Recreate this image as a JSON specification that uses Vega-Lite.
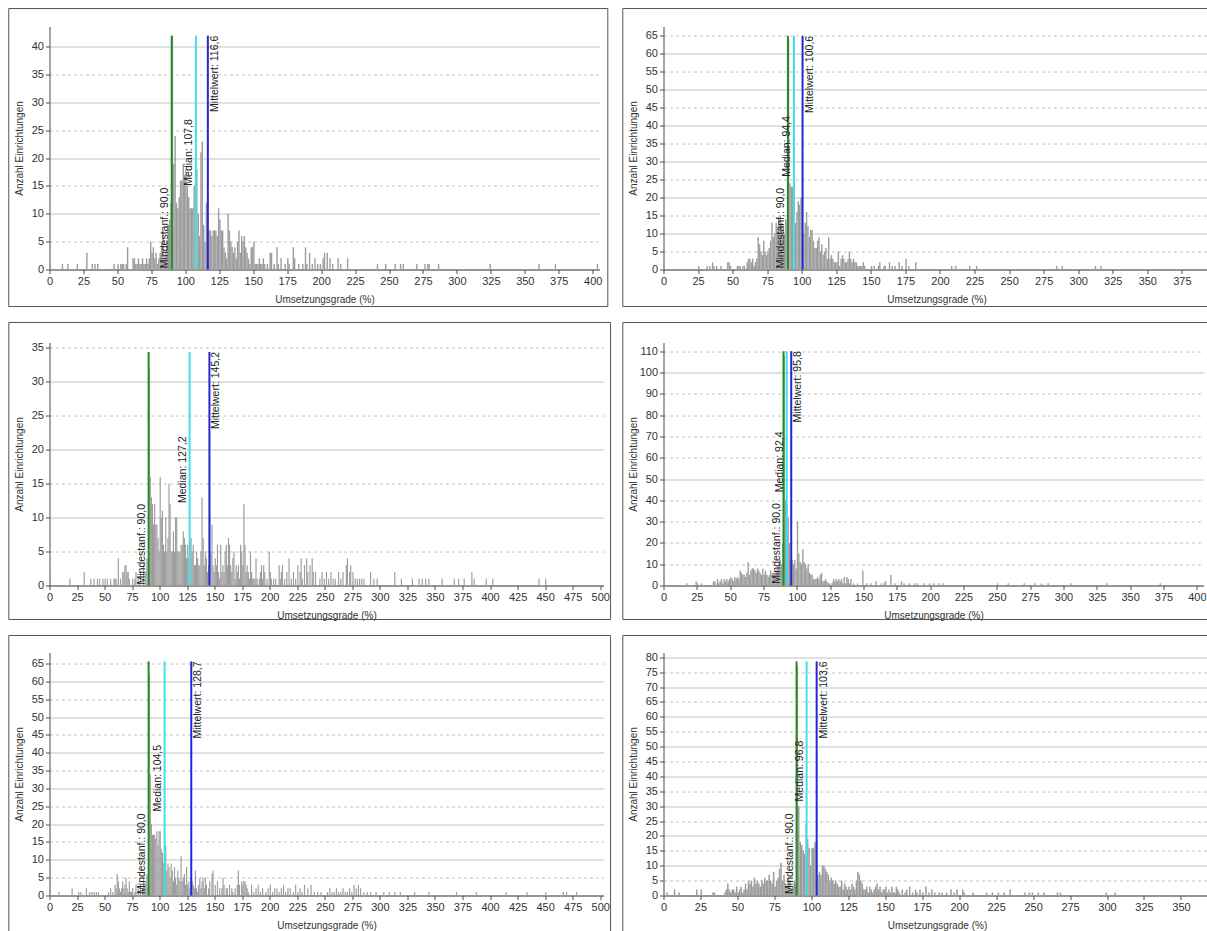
{
"$schema":"https://vega.github.io/schema/vega-lite/v6.json",
"background":"white",
"padding":{"left":7.5,"top":7.5,"right":0,"bottom":0},
"autosize":{"type":"pad"},
"config":{
 "font":"Liberation Sans",
 "view":{"stroke":null},
 "axis":{"labelFont":"Liberation Sans","labelFontSize":11,"labelColor":"#333333","titleFont":"Liberation Sans","titleFontSize":10,"titleFontWeight":"normal","titleColor":"#333333","domainColor":"#4d4d4d","tickColor":"#4d4d4d","tickSize":4,"labelPadding":2,"labelOverlap":false,"labelFlush":false},
 "axisX":{"grid":false,"titlePadding":8},
 "axisY":{"grid":true,"gridColor":"#c2c2c2","titleX":-25},
 "text":{"fontSize":10.5,"color":"#222222","font":"Liberation Sans"}
},
"datasets":{
"lines":[
{"p":1,"t":"min","x":90,"n":42,"label":"Mindestanf.: 90,0"},
{"p":1,"t":"med","x":107.8,"n":42,"label":"Median: 107,8"},
{"p":1,"t":"mean","x":116.6,"n":42,"label":"Mittelwert: 116,6"},
{"p":2,"t":"min","x":90,"n":65,"label":"Mindestanf.: 90,0"},
{"p":2,"t":"med","x":94.4,"n":65,"label":"Median: 94,4"},
{"p":2,"t":"mean","x":100.6,"n":65,"label":"Mittelwert: 100,6"},
{"p":3,"t":"min","x":90,"n":34.4,"label":"Mindestanf.: 90,0"},
{"p":3,"t":"med","x":127.2,"n":34.4,"label":"Median: 127,2"},
{"p":3,"t":"mean","x":145.2,"n":34.4,"label":"Mittelwert: 145,2"},
{"p":4,"t":"min","x":90,"n":110,"label":"Mindestanf.: 90,0"},
{"p":4,"t":"med","x":92.4,"n":110,"label":"Median: 92,4"},
{"p":4,"t":"mean","x":95.8,"n":110,"label":"Mittelwert: 95,8"},
{"p":5,"t":"min","x":90,"n":65.6,"label":"Mindestanf.: 90,0"},
{"p":5,"t":"med","x":104.5,"n":65.6,"label":"Median: 104,5"},
{"p":5,"t":"mean","x":128.7,"n":65.6,"label":"Mittelwert: 128,7"},
{"p":6,"t":"min","x":90,"n":78.6,"label":"Mindestanf.: 90,0"},
{"p":6,"t":"med","x":96.8,"n":78.6,"label":"Median: 96,8"},
{"p":6,"t":"mean","x":103.6,"n":78.6,"label":"Mittelwert: 103,6"}
],
"b1":[{"x":0,"n":1},{"x":9,"n":1},{"x":13,"n":1},{"x":20,"n":1},{"x":27,"n":3},{"x":31,"n":1},{"x":33,"n":1},{"x":35,"n":1},{"x":47,"n":1},{"x":50,"n":1},{"x":52,"n":1},{"x":53,"n":1},{"x":54,"n":1},{"x":56,"n":1},{"x":57,"n":4},{"x":61,"n":2},{"x":62,"n":2},{"x":63,"n":1},{"x":64,"n":1},{"x":65,"n":2},{"x":66,"n":1},{"x":67,"n":1},{"x":68,"n":2},{"x":69,"n":1},{"x":70,"n":1},{"x":71,"n":2},{"x":72,"n":1},{"x":73,"n":2},{"x":74,"n":5},{"x":75,"n":3},{"x":76,"n":4},{"x":77,"n":2},{"x":78,"n":3},{"x":79,"n":1},{"x":80,"n":2},{"x":81,"n":3},{"x":82,"n":5},{"x":83,"n":7},{"x":84,"n":2},{"x":85,"n":3},{"x":86,"n":5},{"x":87,"n":8},{"x":88,"n":9},{"x":89,"n":12},{"x":90,"n":42},{"x":91,"n":19},{"x":92,"n":24},{"x":93,"n":12},{"x":94,"n":11},{"x":95,"n":13},{"x":96,"n":16},{"x":97,"n":16},{"x":98,"n":19},{"x":99,"n":17},{"x":100,"n":18},{"x":101,"n":15},{"x":102,"n":13},{"x":103,"n":11},{"x":104,"n":11},{"x":105,"n":11},{"x":106,"n":15},{"x":107,"n":17},{"x":108,"n":18},{"x":109,"n":10},{"x":110,"n":6},{"x":111,"n":21},{"x":112,"n":23},{"x":113,"n":8},{"x":114,"n":5},{"x":115,"n":12},{"x":116,"n":7},{"x":117,"n":7},{"x":118,"n":7},{"x":119,"n":6},{"x":120,"n":7},{"x":121,"n":7},{"x":122,"n":7},{"x":123,"n":6},{"x":124,"n":11},{"x":125,"n":9},{"x":126,"n":7},{"x":127,"n":7},{"x":128,"n":4},{"x":129,"n":3},{"x":130,"n":2},{"x":131,"n":10},{"x":132,"n":7},{"x":133,"n":5},{"x":134,"n":4},{"x":135,"n":3},{"x":136,"n":4},{"x":137,"n":2},{"x":138,"n":5},{"x":139,"n":7},{"x":140,"n":3},{"x":141,"n":6},{"x":142,"n":5},{"x":143,"n":6},{"x":144,"n":4},{"x":145,"n":3},{"x":146,"n":2},{"x":147,"n":1},{"x":148,"n":4},{"x":149,"n":4},{"x":150,"n":5},{"x":151,"n":1},{"x":152,"n":1},{"x":153,"n":1},{"x":154,"n":2},{"x":155,"n":1},{"x":156,"n":1},{"x":157,"n":2},{"x":158,"n":1},{"x":160,"n":1},{"x":162,"n":3},{"x":163,"n":3},{"x":165,"n":1},{"x":167,"n":4},{"x":168,"n":1},{"x":170,"n":2},{"x":173,"n":1},{"x":175,"n":2},{"x":176,"n":1},{"x":179,"n":4},{"x":180,"n":2},{"x":183,"n":1},{"x":186,"n":1},{"x":188,"n":4},{"x":189,"n":1},{"x":191,"n":3},{"x":193,"n":1},{"x":195,"n":2},{"x":197,"n":1},{"x":199,"n":1},{"x":201,"n":2},{"x":202,"n":3},{"x":204,"n":3},{"x":206,"n":2},{"x":208,"n":1},{"x":212,"n":2},{"x":214,"n":1},{"x":219,"n":2},{"x":241,"n":1},{"x":247,"n":1},{"x":254,"n":1},{"x":258,"n":1},{"x":260,"n":1},{"x":270,"n":1},{"x":276,"n":1},{"x":278,"n":1},{"x":279,"n":1},{"x":286,"n":1},{"x":324,"n":1},{"x":360,"n":1},{"x":372,"n":1},{"x":403,"n":1}],
"b2":[{"x":25,"n":1},{"x":31,"n":1},{"x":33,"n":1},{"x":35,"n":2},{"x":36,"n":1},{"x":38,"n":1},{"x":41,"n":1},{"x":46,"n":2},{"x":47,"n":2},{"x":48,"n":1},{"x":53,"n":1},{"x":54,"n":1},{"x":55,"n":1},{"x":57,"n":1},{"x":58,"n":1},{"x":60,"n":2},{"x":61,"n":3},{"x":62,"n":3},{"x":63,"n":2},{"x":64,"n":3},{"x":65,"n":1},{"x":66,"n":2},{"x":67,"n":3},{"x":68,"n":9},{"x":69,"n":7},{"x":70,"n":5},{"x":71,"n":4},{"x":72,"n":8},{"x":73,"n":5},{"x":74,"n":4},{"x":75,"n":5},{"x":76,"n":6},{"x":77,"n":8},{"x":78,"n":13},{"x":79,"n":9},{"x":80,"n":10},{"x":81,"n":13},{"x":82,"n":12},{"x":83,"n":14},{"x":84,"n":15},{"x":85,"n":13},{"x":86,"n":11},{"x":87,"n":10},{"x":88,"n":14},{"x":89,"n":13},{"x":90,"n":64},{"x":91,"n":24},{"x":92,"n":23},{"x":93,"n":23},{"x":94,"n":17},{"x":95,"n":13},{"x":96,"n":16},{"x":97,"n":19},{"x":98,"n":18},{"x":99,"n":20},{"x":100,"n":14},{"x":101,"n":10},{"x":102,"n":13},{"x":103,"n":16},{"x":104,"n":12},{"x":105,"n":9},{"x":106,"n":11},{"x":107,"n":11},{"x":108,"n":8},{"x":109,"n":6},{"x":110,"n":6},{"x":111,"n":8},{"x":112,"n":9},{"x":113,"n":5},{"x":114,"n":7},{"x":115,"n":4},{"x":116,"n":5},{"x":117,"n":6},{"x":118,"n":3},{"x":119,"n":9},{"x":120,"n":3},{"x":121,"n":4},{"x":122,"n":3},{"x":123,"n":2},{"x":124,"n":2},{"x":125,"n":2},{"x":126,"n":5},{"x":127,"n":1},{"x":128,"n":3},{"x":129,"n":4},{"x":130,"n":3},{"x":131,"n":2},{"x":132,"n":2},{"x":133,"n":3},{"x":134,"n":5},{"x":135,"n":3},{"x":136,"n":2},{"x":137,"n":3},{"x":138,"n":2},{"x":139,"n":2},{"x":140,"n":1},{"x":141,"n":1},{"x":142,"n":1},{"x":143,"n":1},{"x":144,"n":2},{"x":145,"n":1},{"x":150,"n":1},{"x":152,"n":1},{"x":155,"n":1},{"x":156,"n":2},{"x":159,"n":1},{"x":160,"n":1},{"x":163,"n":2},{"x":165,"n":1},{"x":167,"n":1},{"x":170,"n":2},{"x":172,"n":1},{"x":175,"n":3},{"x":177,"n":1},{"x":182,"n":2},{"x":208,"n":1},{"x":211,"n":1},{"x":221,"n":1},{"x":226,"n":1},{"x":284,"n":1},{"x":288,"n":1},{"x":312,"n":1},{"x":316,"n":1}],
"b3":[{"x":0,"n":2},{"x":18,"n":1},{"x":31,"n":2},{"x":37,"n":1},{"x":40,"n":1},{"x":43,"n":1},{"x":45,"n":1},{"x":48,"n":1},{"x":50,"n":1},{"x":52,"n":1},{"x":55,"n":1},{"x":58,"n":1},{"x":59,"n":1},{"x":60,"n":1},{"x":62,"n":4},{"x":64,"n":1},{"x":66,"n":2},{"x":67,"n":2},{"x":68,"n":3},{"x":69,"n":3},{"x":70,"n":2},{"x":71,"n":2},{"x":72,"n":1},{"x":75,"n":1},{"x":77,"n":1},{"x":78,"n":2},{"x":80,"n":1},{"x":82,"n":2},{"x":85,"n":3},{"x":87,"n":2},{"x":88,"n":4},{"x":90,"n":32},{"x":91,"n":16},{"x":92,"n":13},{"x":93,"n":12},{"x":94,"n":9},{"x":95,"n":12},{"x":96,"n":9},{"x":97,"n":9},{"x":98,"n":7},{"x":99,"n":5},{"x":100,"n":16},{"x":101,"n":10},{"x":102,"n":11},{"x":103,"n":6},{"x":104,"n":5},{"x":105,"n":10},{"x":106,"n":5},{"x":107,"n":7},{"x":108,"n":15},{"x":109,"n":12},{"x":110,"n":5},{"x":111,"n":5},{"x":112,"n":8},{"x":113,"n":5},{"x":114,"n":10},{"x":115,"n":10},{"x":116,"n":5},{"x":117,"n":5},{"x":118,"n":5},{"x":119,"n":6},{"x":120,"n":6},{"x":121,"n":8},{"x":122,"n":7},{"x":123,"n":6},{"x":124,"n":4},{"x":125,"n":6},{"x":126,"n":4},{"x":127,"n":7},{"x":128,"n":7},{"x":129,"n":5},{"x":130,"n":6},{"x":131,"n":3},{"x":132,"n":3},{"x":133,"n":5},{"x":134,"n":4},{"x":135,"n":3},{"x":136,"n":3},{"x":137,"n":5},{"x":138,"n":13},{"x":139,"n":7},{"x":140,"n":3},{"x":141,"n":5},{"x":142,"n":4},{"x":143,"n":2},{"x":144,"n":3},{"x":145,"n":11},{"x":146,"n":5},{"x":147,"n":9},{"x":148,"n":3},{"x":149,"n":2},{"x":150,"n":4},{"x":151,"n":3},{"x":152,"n":6},{"x":153,"n":2},{"x":154,"n":1},{"x":155,"n":6},{"x":156,"n":2},{"x":157,"n":3},{"x":158,"n":2},{"x":159,"n":5},{"x":160,"n":6},{"x":161,"n":3},{"x":162,"n":7},{"x":163,"n":6},{"x":164,"n":3},{"x":165,"n":2},{"x":166,"n":4},{"x":167,"n":5},{"x":168,"n":1},{"x":169,"n":3},{"x":170,"n":2},{"x":171,"n":3},{"x":172,"n":1},{"x":173,"n":6},{"x":174,"n":5},{"x":175,"n":3},{"x":176,"n":12},{"x":177,"n":6},{"x":178,"n":2},{"x":179,"n":3},{"x":180,"n":2},{"x":181,"n":1},{"x":182,"n":5},{"x":183,"n":2},{"x":184,"n":1},{"x":185,"n":1},{"x":186,"n":1},{"x":187,"n":4},{"x":188,"n":1},{"x":190,"n":1},{"x":191,"n":2},{"x":192,"n":3},{"x":193,"n":1},{"x":194,"n":3},{"x":195,"n":2},{"x":197,"n":1},{"x":199,"n":5},{"x":200,"n":2},{"x":201,"n":1},{"x":203,"n":1},{"x":205,"n":1},{"x":208,"n":3},{"x":209,"n":1},{"x":210,"n":2},{"x":211,"n":3},{"x":213,"n":1},{"x":215,"n":2},{"x":217,"n":4},{"x":219,"n":1},{"x":221,"n":2},{"x":223,"n":1},{"x":225,"n":3},{"x":227,"n":2},{"x":228,"n":4},{"x":229,"n":1},{"x":231,"n":3},{"x":233,"n":4},{"x":234,"n":2},{"x":236,"n":3},{"x":238,"n":4},{"x":239,"n":2},{"x":241,"n":2},{"x":245,"n":1},{"x":247,"n":2},{"x":249,"n":1},{"x":251,"n":2},{"x":253,"n":1},{"x":255,"n":2},{"x":257,"n":1},{"x":259,"n":1},{"x":262,"n":2},{"x":264,"n":1},{"x":266,"n":2},{"x":269,"n":3},{"x":270,"n":4},{"x":272,"n":2},{"x":273,"n":3},{"x":275,"n":2},{"x":277,"n":1},{"x":279,"n":1},{"x":281,"n":1},{"x":283,"n":1},{"x":285,"n":1},{"x":291,"n":2},{"x":294,"n":1},{"x":297,"n":1},{"x":313,"n":2},{"x":319,"n":1},{"x":329,"n":1},{"x":335,"n":1},{"x":338,"n":1},{"x":341,"n":1},{"x":344,"n":1},{"x":356,"n":1},{"x":367,"n":1},{"x":371,"n":1},{"x":376,"n":1},{"x":383,"n":2},{"x":385,"n":1},{"x":396,"n":1},{"x":402,"n":1},{"x":444,"n":1},{"x":450,"n":1}],
"b4":[{"x":0,"n":3},{"x":17,"n":1},{"x":24,"n":2},{"x":25,"n":1},{"x":28,"n":1},{"x":37,"n":2},{"x":38,"n":2},{"x":40,"n":3},{"x":41,"n":1},{"x":42,"n":2},{"x":43,"n":3},{"x":44,"n":1},{"x":45,"n":3},{"x":46,"n":2},{"x":47,"n":3},{"x":48,"n":2},{"x":49,"n":3},{"x":50,"n":4},{"x":51,"n":3},{"x":52,"n":2},{"x":53,"n":4},{"x":54,"n":3},{"x":55,"n":4},{"x":56,"n":3},{"x":57,"n":7},{"x":58,"n":6},{"x":59,"n":5},{"x":60,"n":5},{"x":61,"n":4},{"x":62,"n":6},{"x":63,"n":11},{"x":64,"n":5},{"x":65,"n":7},{"x":66,"n":8},{"x":67,"n":8},{"x":68,"n":7},{"x":69,"n":6},{"x":70,"n":8},{"x":71,"n":7},{"x":72,"n":6},{"x":73,"n":5},{"x":74,"n":8},{"x":75,"n":5},{"x":76,"n":7},{"x":77,"n":5},{"x":78,"n":4},{"x":79,"n":5},{"x":80,"n":7},{"x":81,"n":5},{"x":82,"n":6},{"x":83,"n":5},{"x":84,"n":7},{"x":85,"n":8},{"x":86,"n":9},{"x":87,"n":12},{"x":88,"n":10},{"x":89,"n":20},{"x":90,"n":108},{"x":91,"n":40},{"x":92,"n":38},{"x":93,"n":32},{"x":94,"n":20},{"x":95,"n":12},{"x":96,"n":12},{"x":97,"n":10},{"x":98,"n":12},{"x":99,"n":8},{"x":100,"n":30},{"x":101,"n":15},{"x":102,"n":11},{"x":103,"n":10},{"x":104,"n":17},{"x":105,"n":11},{"x":106,"n":10},{"x":107,"n":8},{"x":108,"n":10},{"x":109,"n":6},{"x":110,"n":5},{"x":111,"n":5},{"x":112,"n":3},{"x":113,"n":3},{"x":114,"n":3},{"x":115,"n":4},{"x":116,"n":3},{"x":117,"n":5},{"x":118,"n":6},{"x":119,"n":2},{"x":120,"n":2},{"x":121,"n":3},{"x":122,"n":2},{"x":123,"n":1},{"x":124,"n":1},{"x":126,"n":1},{"x":127,"n":3},{"x":128,"n":2},{"x":129,"n":3},{"x":130,"n":2},{"x":131,"n":3},{"x":132,"n":2},{"x":133,"n":3},{"x":134,"n":1},{"x":135,"n":4},{"x":136,"n":1},{"x":137,"n":4},{"x":138,"n":3},{"x":139,"n":1},{"x":140,"n":3},{"x":142,"n":1},{"x":145,"n":1},{"x":149,"n":7},{"x":152,"n":1},{"x":155,"n":1},{"x":159,"n":2},{"x":163,"n":1},{"x":165,"n":1},{"x":166,"n":2},{"x":170,"n":5},{"x":173,"n":1},{"x":178,"n":2},{"x":180,"n":1},{"x":184,"n":1},{"x":188,"n":1},{"x":190,"n":1},{"x":195,"n":1},{"x":199,"n":1},{"x":202,"n":1},{"x":206,"n":1},{"x":209,"n":1},{"x":250,"n":1},{"x":258,"n":1},{"x":270,"n":1},{"x":278,"n":1},{"x":283,"n":1},{"x":288,"n":1},{"x":305,"n":1},{"x":332,"n":1},{"x":372,"n":1}],
"b5":[{"x":0,"n":31},{"x":8,"n":1},{"x":20,"n":2},{"x":26,"n":1},{"x":28,"n":1},{"x":33,"n":2},{"x":36,"n":1},{"x":38,"n":1},{"x":40,"n":1},{"x":42,"n":1},{"x":44,"n":1},{"x":53,"n":1},{"x":55,"n":2},{"x":57,"n":1},{"x":59,"n":3},{"x":60,"n":2},{"x":61,"n":6},{"x":62,"n":4},{"x":63,"n":2},{"x":64,"n":1},{"x":65,"n":2},{"x":66,"n":4},{"x":67,"n":2},{"x":68,"n":3},{"x":69,"n":5},{"x":70,"n":2},{"x":71,"n":1},{"x":72,"n":4},{"x":73,"n":1},{"x":74,"n":1},{"x":75,"n":2},{"x":77,"n":1},{"x":78,"n":3},{"x":80,"n":2},{"x":82,"n":3},{"x":84,"n":2},{"x":85,"n":5},{"x":86,"n":3},{"x":87,"n":4},{"x":88,"n":6},{"x":89,"n":2},{"x":90,"n":62},{"x":91,"n":34},{"x":92,"n":20},{"x":93,"n":17},{"x":94,"n":17},{"x":95,"n":17},{"x":96,"n":16},{"x":97,"n":18},{"x":98,"n":14},{"x":99,"n":18},{"x":100,"n":18},{"x":101,"n":13},{"x":102,"n":12},{"x":103,"n":9},{"x":104,"n":10},{"x":105,"n":14},{"x":106,"n":7},{"x":107,"n":9},{"x":108,"n":8},{"x":109,"n":5},{"x":110,"n":9},{"x":111,"n":7},{"x":112,"n":4},{"x":113,"n":8},{"x":114,"n":5},{"x":115,"n":3},{"x":116,"n":7},{"x":117,"n":5},{"x":118,"n":4},{"x":119,"n":11},{"x":120,"n":4},{"x":121,"n":5},{"x":122,"n":6},{"x":123,"n":3},{"x":124,"n":8},{"x":125,"n":3},{"x":126,"n":4},{"x":127,"n":2},{"x":128,"n":5},{"x":129,"n":4},{"x":130,"n":3},{"x":131,"n":2},{"x":132,"n":7},{"x":133,"n":2},{"x":134,"n":1},{"x":135,"n":3},{"x":136,"n":5},{"x":137,"n":2},{"x":138,"n":4},{"x":139,"n":5},{"x":140,"n":2},{"x":141,"n":5},{"x":142,"n":3},{"x":144,"n":2},{"x":145,"n":4},{"x":147,"n":6},{"x":148,"n":7},{"x":150,"n":3},{"x":152,"n":4},{"x":154,"n":2},{"x":156,"n":2},{"x":157,"n":5},{"x":158,"n":3},{"x":160,"n":2},{"x":161,"n":2},{"x":163,"n":3},{"x":165,"n":2},{"x":166,"n":1},{"x":168,"n":2},{"x":170,"n":3},{"x":171,"n":7},{"x":172,"n":3},{"x":174,"n":4},{"x":175,"n":3},{"x":176,"n":4},{"x":177,"n":4},{"x":178,"n":3},{"x":179,"n":2},{"x":180,"n":1},{"x":183,"n":3},{"x":185,"n":1},{"x":187,"n":2},{"x":189,"n":3},{"x":191,"n":1},{"x":193,"n":2},{"x":196,"n":1},{"x":198,"n":2},{"x":200,"n":3},{"x":202,"n":1},{"x":204,"n":2},{"x":206,"n":2},{"x":208,"n":1},{"x":210,"n":2},{"x":212,"n":3},{"x":214,"n":1},{"x":216,"n":2},{"x":218,"n":2},{"x":221,"n":1},{"x":223,"n":3},{"x":225,"n":1},{"x":227,"n":2},{"x":229,"n":1},{"x":231,"n":3},{"x":234,"n":2},{"x":237,"n":3},{"x":240,"n":1},{"x":243,"n":1},{"x":246,"n":1},{"x":252,"n":1},{"x":254,"n":2},{"x":256,"n":1},{"x":258,"n":1},{"x":260,"n":2},{"x":262,"n":1},{"x":264,"n":1},{"x":266,"n":2},{"x":268,"n":1},{"x":270,"n":1},{"x":272,"n":2},{"x":274,"n":1},{"x":276,"n":3},{"x":278,"n":2},{"x":280,"n":3},{"x":282,"n":2},{"x":285,"n":1},{"x":288,"n":1},{"x":291,"n":1},{"x":296,"n":1},{"x":303,"n":1},{"x":308,"n":1},{"x":313,"n":1},{"x":318,"n":1},{"x":331,"n":1},{"x":344,"n":1},{"x":369,"n":1},{"x":387,"n":1},{"x":414,"n":1},{"x":433,"n":1},{"x":450,"n":1},{"x":466,"n":1},{"x":469,"n":1},{"x":478,"n":1}],
"b6":[{"x":0,"n":9},{"x":2,"n":1},{"x":7,"n":2},{"x":10,"n":1},{"x":22,"n":2},{"x":25,"n":2},{"x":33,"n":1},{"x":34,"n":1},{"x":41,"n":1},{"x":42,"n":2},{"x":43,"n":4},{"x":44,"n":2},{"x":45,"n":1},{"x":46,"n":2},{"x":47,"n":2},{"x":48,"n":1},{"x":49,"n":3},{"x":50,"n":1},{"x":51,"n":2},{"x":52,"n":3},{"x":53,"n":1},{"x":54,"n":2},{"x":55,"n":4},{"x":56,"n":2},{"x":57,"n":5},{"x":58,"n":4},{"x":59,"n":5},{"x":60,"n":3},{"x":61,"n":6},{"x":62,"n":4},{"x":63,"n":5},{"x":64,"n":4},{"x":65,"n":3},{"x":66,"n":5},{"x":67,"n":4},{"x":68,"n":6},{"x":69,"n":5},{"x":70,"n":5},{"x":71,"n":7},{"x":72,"n":5},{"x":73,"n":4},{"x":74,"n":8},{"x":75,"n":3},{"x":76,"n":5},{"x":77,"n":6},{"x":78,"n":9},{"x":79,"n":11},{"x":80,"n":5},{"x":81,"n":7},{"x":82,"n":4},{"x":83,"n":3},{"x":84,"n":6},{"x":85,"n":5},{"x":86,"n":2},{"x":87,"n":3},{"x":88,"n":5},{"x":89,"n":4},{"x":90,"n":77},{"x":91,"n":30},{"x":92,"n":18},{"x":93,"n":17},{"x":94,"n":15},{"x":95,"n":14},{"x":96,"n":24},{"x":97,"n":19},{"x":98,"n":16},{"x":99,"n":10},{"x":100,"n":16},{"x":101,"n":16},{"x":102,"n":18},{"x":103,"n":17},{"x":104,"n":7},{"x":105,"n":8},{"x":106,"n":7},{"x":107,"n":10},{"x":108,"n":10},{"x":109,"n":9},{"x":110,"n":8},{"x":111,"n":7},{"x":112,"n":5},{"x":113,"n":6},{"x":114,"n":5},{"x":115,"n":4},{"x":116,"n":5},{"x":117,"n":4},{"x":118,"n":3},{"x":119,"n":3},{"x":120,"n":5},{"x":121,"n":2},{"x":122,"n":4},{"x":123,"n":3},{"x":124,"n":2},{"x":125,"n":3},{"x":126,"n":2},{"x":127,"n":4},{"x":128,"n":3},{"x":129,"n":2},{"x":130,"n":5},{"x":131,"n":8},{"x":132,"n":7},{"x":133,"n":5},{"x":134,"n":4},{"x":135,"n":2},{"x":136,"n":2},{"x":137,"n":3},{"x":138,"n":1},{"x":139,"n":3},{"x":140,"n":2},{"x":141,"n":1},{"x":142,"n":2},{"x":143,"n":3},{"x":144,"n":4},{"x":145,"n":2},{"x":146,"n":3},{"x":147,"n":1},{"x":148,"n":2},{"x":149,"n":2},{"x":150,"n":3},{"x":151,"n":1},{"x":152,"n":2},{"x":153,"n":1},{"x":154,"n":3},{"x":155,"n":1},{"x":156,"n":1},{"x":157,"n":3},{"x":158,"n":2},{"x":159,"n":1},{"x":161,"n":2},{"x":163,"n":1},{"x":164,"n":2},{"x":166,"n":3},{"x":168,"n":1},{"x":170,"n":2},{"x":171,"n":1},{"x":173,"n":2},{"x":175,"n":1},{"x":177,"n":3},{"x":179,"n":1},{"x":181,"n":2},{"x":183,"n":1},{"x":186,"n":1},{"x":188,"n":1},{"x":191,"n":1},{"x":194,"n":2},{"x":196,"n":1},{"x":198,"n":2},{"x":202,"n":2},{"x":203,"n":1},{"x":209,"n":1},{"x":218,"n":1},{"x":222,"n":1},{"x":226,"n":1},{"x":230,"n":1},{"x":234,"n":2},{"x":244,"n":1},{"x":247,"n":1},{"x":249,"n":1},{"x":253,"n":1},{"x":257,"n":1},{"x":266,"n":1},{"x":268,"n":1},{"x":299,"n":1},{"x":305,"n":1}]
},
"columns":2,
"spacing":{"row":14,"column":10},
"concat":[
{"width":550,"height":243,"layer":[
 {"encoding":{
  "x":{"field":"x","type":"quantitative","scale":{"domain":[0,405],"nice":false,"zero":false,"padding":0},"axis":{"title":"Umsetzungsgrade (%)","values":[0,25,50,75,100,125,150,175,200,225,250,275,300,325,350,375,400]}},
  "y":{"field":"n","type":"quantitative","stack":null,"scale":{"domain":[0,43.65],"nice":false,"padding":0},"axis":{"title":"Anzahl Einrichtungen","values":[0,5,10,15,20,25,30,35,40],"gridDash":{"condition":{"test":"datum.value % 10 === 0","value":[]},"value":[3,3]}}}},
  "layer":[
  {"data":{"name":"b1"},"mark":{"type":"bar","orient":"vertical","color":"#9c9c9c","size":1.4,"xOffset":0.7}},
  {"data":{"name":"lines"},"transform":[{"filter":"datum.p==1"}],"mark":{"type":"rule","strokeWidth":2},"encoding":{"y2":{"datum":0},"color":{"field":"t","type":"nominal","scale":{"domain":["min","med","mean"],"range":["#248a24","#40e0e8","#2424dc"]},"legend":null}}},
  {"data":{"name":"lines"},"transform":[{"filter":"datum.p==1 && datum.t=='min'"}],"mark":{"type":"text","angle":270,"align":"left","baseline":"bottom","dx":-232.5,"dy":-2},"encoding":{"text":{"field":"label"}}},
  {"data":{"name":"lines"},"transform":[{"filter":"datum.p==1 && datum.t=='med'"}],"mark":{"type":"text","angle":270,"align":"left","baseline":"bottom","dx":-150,"dy":-2},"encoding":{"text":{"field":"label"}}},
  {"data":{"name":"lines"},"transform":[{"filter":"datum.p==1 && datum.t=='mean'"}],"mark":{"type":"text","angle":270,"align":"right","baseline":"top","dy":2},"encoding":{"text":{"field":"label"}}}
 ]},
 {"data":{"values":[{}]},"mark":{"type":"rect","fill":null,"stroke":"#555555","strokeWidth":1},"encoding":{
  "x":{"datum":-30,"type":"quantitative","axis":{"title":"Umsetzungsgrade (%)","values":[0,25,50,75,100,125,150,175,200,225,250,275,300,325,350,375,400]}},"x2":{"datum":411.1},
  "y":{"datum":-6.65,"type":"quantitative","axis":{"title":"Anzahl Einrichtungen","values":[0,5,10,15,20,25,30,35,40],"gridDash":{"condition":{"test":"datum.value % 10 === 0","value":[]},"value":[3,3]}}},"y2":{"datum":46.88}}}
]},
{"width":546,"height":243,"layer":[
 {"encoding":{
  "x":{"field":"x","type":"quantitative","scale":{"domain":[0,395],"nice":false,"zero":false,"padding":0},"axis":{"title":"Umsetzungsgrade (%)","values":[0,25,50,75,100,125,150,175,200,225,250,275,300,325,350,375]}},
  "y":{"field":"n","type":"quantitative","stack":null,"scale":{"domain":[0,67.6],"nice":false,"padding":0},"axis":{"title":"Anzahl Einrichtungen","values":[0,5,10,15,20,25,30,35,40,45,50,55,60,65],"gridDash":{"condition":{"test":"datum.value % 10 === 0","value":[]},"value":[3,3]}}}},
  "layer":[
  {"data":{"name":"b2"},"mark":{"type":"bar","orient":"vertical","color":"#9c9c9c","size":1.4,"xOffset":0.7}},
  {"data":{"name":"lines"},"transform":[{"filter":"datum.p==2"}],"mark":{"type":"rule","strokeWidth":2},"encoding":{"y2":{"datum":0},"color":{"field":"t","type":"nominal","scale":{"domain":["min","med","mean"],"range":["#248a24","#40e0e8","#2424dc"]},"legend":null}}},
  {"data":{"name":"lines"},"transform":[{"filter":"datum.p==2 && datum.t=='min'"}],"mark":{"type":"text","angle":270,"align":"left","baseline":"bottom","dx":-232.5,"dy":-2},"encoding":{"text":{"field":"label"}}},
  {"data":{"name":"lines"},"transform":[{"filter":"datum.p==2 && datum.t=='med'"}],"mark":{"type":"text","angle":270,"align":"left","baseline":"bottom","dx":-141,"dy":-2},"encoding":{"text":{"field":"label"}}},
  {"data":{"name":"lines"},"transform":[{"filter":"datum.p==2 && datum.t=='mean'"}],"mark":{"type":"text","angle":270,"align":"right","baseline":"top","dy":2},"encoding":{"text":{"field":"label"}}}
 ]},
 {"data":{"values":[{}]},"mark":{"type":"rect","fill":null,"stroke":"#555555","strokeWidth":1},"encoding":{
  "x":{"datum":-29.44,"type":"quantitative","axis":{"title":"Umsetzungsgrade (%)","values":[0,25,50,75,100,125,150,175,200,225,250,275,300,325,350,375]}},"x2":{"datum":410},
  "y":{"datum":-10.29,"type":"quantitative","axis":{"title":"Anzahl Einrichtungen","values":[0,5,10,15,20,25,30,35,40,45,50,55,60,65],"gridDash":{"condition":{"test":"datum.value % 10 === 0","value":[]},"value":[3,3]}}},"y2":{"datum":72.61}}}
]},
{"width":554,"height":243,"layer":[
 {"encoding":{
  "x":{"field":"x","type":"quantitative","scale":{"domain":[0,503],"nice":false,"zero":false,"padding":0},"axis":{"title":"Umsetzungsgrade (%)","values":[0,25,50,75,100,125,150,175,200,225,250,275,300,325,350,375,400,425,450,475,500]}},
  "y":{"field":"n","type":"quantitative","stack":null,"scale":{"domain":[0,35.8],"nice":false,"padding":0},"axis":{"title":"Anzahl Einrichtungen","values":[0,5,10,15,20,25,30,35],"gridDash":{"condition":{"test":"datum.value % 10 === 0","value":[]},"value":[3,3]}}}},
  "layer":[
  {"data":{"name":"b3"},"mark":{"type":"bar","orient":"vertical","color":"#9c9c9c","size":1.15,"xOffset":0.55}},
  {"data":{"name":"lines"},"transform":[{"filter":"datum.p==3"}],"mark":{"type":"rule","strokeWidth":2},"encoding":{"y2":{"datum":0},"color":{"field":"t","type":"nominal","scale":{"domain":["min","med","mean"],"range":["#248a24","#40e0e8","#2424dc"]},"legend":null}}},
  {"data":{"name":"lines"},"transform":[{"filter":"datum.p==3 && datum.t=='min'"}],"mark":{"type":"text","angle":270,"align":"left","baseline":"bottom","dx":-232.5,"dy":-2},"encoding":{"text":{"field":"label"}}},
  {"data":{"name":"lines"},"transform":[{"filter":"datum.p==3 && datum.t=='med'"}],"mark":{"type":"text","angle":270,"align":"left","baseline":"bottom","dx":-151,"dy":-2},"encoding":{"text":{"field":"label"}}},
  {"data":{"name":"lines"},"transform":[{"filter":"datum.p==3 && datum.t=='mean'"}],"mark":{"type":"text","angle":270,"align":"right","baseline":"top","dy":2},"encoding":{"text":{"field":"label"}}}
 ]},
 {"data":{"values":[{}]},"mark":{"type":"rect","fill":null,"stroke":"#555555","strokeWidth":1},"encoding":{
  "x":{"datum":-36.95,"type":"quantitative","axis":{"title":"Umsetzungsgrade (%)","values":[0,25,50,75,100,125,150,175,200,225,250,275,300,325,350,375,400,425,450,475,500]}},"x2":{"datum":509.4},
  "y":{"datum":-5.01,"type":"quantitative","axis":{"title":"Anzahl Einrichtungen","values":[0,5,10,15,20,25,30,35],"gridDash":{"condition":{"test":"datum.value % 10 === 0","value":[]},"value":[3,3]}}},"y2":{"datum":38.75}}}
]},
{"width":540,"height":243,"layer":[
 {"encoding":{
  "x":{"field":"x","type":"quantitative","scale":{"domain":[0,405],"nice":false,"zero":false,"padding":0},"axis":{"title":"Umsetzungsgrade (%)","values":[0,25,50,75,100,125,150,175,200,225,250,275,300,325,350,375,400]}},
  "y":{"field":"n","type":"quantitative","stack":null,"scale":{"domain":[0,114.1],"nice":false,"padding":0},"axis":{"title":"Anzahl Einrichtungen","values":[0,10,20,30,40,50,60,70,80,90,100,110],"gridDash":{"condition":{"test":"datum.value % 50 === 0","value":[]},"value":[3,3]}}}},
  "layer":[
  {"data":{"name":"b4"},"mark":{"type":"bar","orient":"vertical","color":"#9c9c9c","size":1.35,"xOffset":0.67}},
  {"data":{"name":"lines"},"transform":[{"filter":"datum.p==4"}],"mark":{"type":"rule","strokeWidth":2},"encoding":{"y2":{"datum":0},"color":{"field":"t","type":"nominal","scale":{"domain":["min","med","mean"],"range":["#248a24","#40e0e8","#2424dc"]},"legend":null}}},
  {"data":{"name":"lines"},"transform":[{"filter":"datum.p==4 && datum.t=='min'"}],"mark":{"type":"text","angle":270,"align":"left","baseline":"bottom","dx":-232.5,"dy":-2},"encoding":{"text":{"field":"label"}}},
  {"data":{"name":"lines"},"transform":[{"filter":"datum.p==4 && datum.t=='med'"}],"mark":{"type":"text","angle":270,"align":"left","baseline":"bottom","dx":-141,"dy":-2},"encoding":{"text":{"field":"label"}}},
  {"data":{"name":"lines"},"transform":[{"filter":"datum.p==4 && datum.t=='mean'"}],"mark":{"type":"text","angle":270,"align":"right","baseline":"top","dy":2},"encoding":{"text":{"field":"label"}}}
 ]},
 {"data":{"values":[{}]},"mark":{"type":"rect","fill":null,"stroke":"#555555","strokeWidth":1},"encoding":{
  "x":{"datum":-30.52,"type":"quantitative","axis":{"title":"Umsetzungsgrade (%)","values":[0,25,50,75,100,125,150,175,200,225,250,275,300,325,350,375,400]}},"x2":{"datum":415},
  "y":{"datum":-15.96,"type":"quantitative","axis":{"title":"Anzahl Einrichtungen","values":[0,10,20,30,40,50,60,70,80,90,100,110],"gridDash":{"condition":{"test":"datum.value % 50 === 0","value":[]},"value":[3,3]}}},"y2":{"datum":123.49}}}
]},
{"width":554,"height":243,"layer":[
 {"encoding":{
  "x":{"field":"x","type":"quantitative","scale":{"domain":[0,503],"nice":false,"zero":false,"padding":0},"axis":{"title":"Umsetzungsgrade (%)","values":[0,25,50,75,100,125,150,175,200,225,250,275,300,325,350,375,400,425,450,475,500]}},
  "y":{"field":"n","type":"quantitative","stack":null,"scale":{"domain":[0,68.1],"nice":false,"padding":0},"axis":{"title":"Anzahl Einrichtungen","values":[0,5,10,15,20,25,30,35,40,45,50,55,60,65],"gridDash":{"condition":{"test":"datum.value % 10 === 0","value":[]},"value":[3,3]}}}},
  "layer":[
  {"data":{"name":"b5"},"mark":{"type":"bar","orient":"vertical","color":"#9c9c9c","size":1.15,"xOffset":0.55}},
  {"data":{"name":"lines"},"transform":[{"filter":"datum.p==5"}],"mark":{"type":"rule","strokeWidth":2},"encoding":{"y2":{"datum":0},"color":{"field":"t","type":"nominal","scale":{"domain":["min","med","mean"],"range":["#248a24","#40e0e8","#2424dc"]},"legend":null}}},
  {"data":{"name":"lines"},"transform":[{"filter":"datum.p==5 && datum.t=='min'"}],"mark":{"type":"text","angle":270,"align":"left","baseline":"bottom","dx":-232.5,"dy":-2},"encoding":{"text":{"field":"label"}}},
  {"data":{"name":"lines"},"transform":[{"filter":"datum.p==5 && datum.t=='med'"}],"mark":{"type":"text","angle":270,"align":"left","baseline":"bottom","dx":-150,"dy":-2},"encoding":{"text":{"field":"label"}}},
  {"data":{"name":"lines"},"transform":[{"filter":"datum.p==5 && datum.t=='mean'"}],"mark":{"type":"text","angle":270,"align":"right","baseline":"top","dy":2},"encoding":{"text":{"field":"label"}}}
 ]},
 {"data":{"values":[{}]},"mark":{"type":"rect","fill":null,"stroke":"#555555","strokeWidth":1},"encoding":{
  "x":{"datum":-36.95,"type":"quantitative","axis":{"title":"Umsetzungsgrade (%)","values":[0,25,50,75,100,125,150,175,200,225,250,275,300,325,350,375,400,425,450,475,500]}},"x2":{"datum":509.4},
  "y":{"datum":-10.09,"type":"quantitative","axis":{"title":"Anzahl Einrichtungen","values":[0,5,10,15,20,25,30,35,40,45,50,55,60,65],"gridDash":{"condition":{"test":"datum.value % 10 === 0","value":[]},"value":[3,3]}}},"y2":{"datum":72.86}}}
]},
{"width":547,"height":243,"layer":[
 {"encoding":{
  "x":{"field":"x","type":"quantitative","scale":{"domain":[0,370],"nice":false,"zero":false,"padding":0},"axis":{"title":"Umsetzungsgrade (%)","values":[0,25,50,75,100,125,150,175,200,225,250,275,300,325,350]}},
  "y":{"field":"n","type":"quantitative","stack":null,"scale":{"domain":[0,81.6],"nice":false,"padding":0},"axis":{"title":"Anzahl Einrichtungen","values":[0,5,10,15,20,25,30,35,40,45,50,55,60,65,70,75,80],"gridDash":{"condition":{"test":"datum.value % 10 === 0","value":[]},"value":[3,3]}}}},
  "layer":[
  {"data":{"name":"b6"},"mark":{"type":"bar","orient":"vertical","color":"#9c9c9c","size":1.5,"xOffset":0.74}},
  {"data":{"name":"lines"},"transform":[{"filter":"datum.p==6"}],"mark":{"type":"rule","strokeWidth":2},"encoding":{"y2":{"datum":0},"color":{"field":"t","type":"nominal","scale":{"domain":["min","med","mean"],"range":["#248a24","#40e0e8","#2424dc"]},"legend":null}}},
  {"data":{"name":"lines"},"transform":[{"filter":"datum.p==6 && datum.t=='min'"}],"mark":{"type":"text","angle":270,"align":"left","baseline":"bottom","dx":-232.5,"dy":-2},"encoding":{"text":{"field":"label"}}},
  {"data":{"name":"lines"},"transform":[{"filter":"datum.p==6 && datum.t=='med'"}],"mark":{"type":"text","angle":270,"align":"left","baseline":"bottom","dx":-140,"dy":-2},"encoding":{"text":{"field":"label"}}},
  {"data":{"name":"lines"},"transform":[{"filter":"datum.p==6 && datum.t=='mean'"}],"mark":{"type":"text","angle":270,"align":"right","baseline":"top","dy":2},"encoding":{"text":{"field":"label"}}}
 ]},
 {"data":{"values":[{}]},"mark":{"type":"rect","fill":null,"stroke":"#555555","strokeWidth":1},"encoding":{
  "x":{"datum":-27.53,"type":"quantitative","axis":{"title":"Umsetzungsgrade (%)","values":[0,25,50,75,100,125,150,175,200,225,250,275,300,325,350]}},"x2":{"datum":380},
  "y":{"datum":-12.09,"type":"quantitative","axis":{"title":"Anzahl Einrichtungen","values":[0,5,10,15,20,25,30,35,40,45,50,55,60,65,70,75,80],"gridDash":{"condition":{"test":"datum.value % 10 === 0","value":[]},"value":[3,3]}}},"y2":{"datum":87.31}}}
]}
]
}
